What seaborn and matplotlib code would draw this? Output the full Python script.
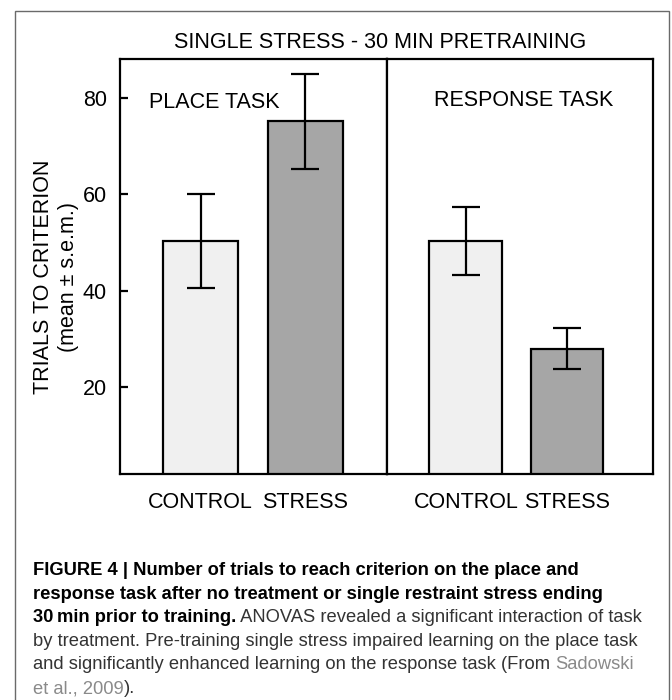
import numpy as np
import pandas as pd
import matplotlib
matplotlib.use('Agg')
import matplotlib.pyplot as plt
import seaborn as sns

# Values
conditions = ['CONTROL', 'STRESS']
place_means = [50.3, 75.1]
place_sems = [9.8, 9.8]
response_means = [50.3, 28.0]
response_sems = [7.0, 4.2]
panel_titles = ['PLACE TASK', 'RESPONSE TASK']
y_ticks = [20, 40, 60, 80]

bar_colors = ['#f0f0f0', '#a6a6a6']
fs = 15.5

sns.set_theme(style='white')
plt.rcParams['font.family'] = ['Liberation Sans', 'DejaVu Sans']

fig = plt.figure(figsize=(6.72, 7.0), dpi=100)
W, H = 672, 700

# outer frame of the figure panel
fig.add_artist(plt.Rectangle((15 / W, -0.02), (669 - 15) / W, 1 - 11 / H + 0.02,
                             transform=fig.transFigure, fill=False, ec='#6a6a6a', lw=1.0))

left, mid, right = 120 / W, 387 / W, 653 / W
bottom, top = 1 - 474 / H, 1 - 59 / H
ax1 = fig.add_axes([left, bottom, mid - left, top - bottom])
ax2 = fig.add_axes([mid, bottom, right - mid, top - bottom])

panels = [(ax1, place_means, place_sems),
          (ax2, response_means, response_sems)]

for ax, means, sems in panels:
    df = pd.DataFrame({'cond': conditions, 'mean': means})
    sns.barplot(data=df, x='cond', y='mean', hue='cond', palette=bar_colors,
                width=0.72, edgecolor='black', linewidth=1.6, errorbar=None,
                legend=False, ax=ax)
    ax.errorbar(np.arange(len(means)), means, yerr=sems, fmt='none',
                ecolor='black', elinewidth=1.6, capsize=10, capthick=1.6)
    ax.set_ylim(2, 88)
    ax.set_xlabel('')
    ax.set_ylabel('')
    for s in ax.spines.values():
        s.set_color('black')
        s.set_linewidth(1.6)
    ax.tick_params(axis='x', length=0, pad=13, labelsize=fs, colors='black')

ax1.set_xlim(-0.77, 1.78)
ax2.set_xlim(-0.78, 1.85)

ax1.text(0.11, 0.895, panel_titles[0], transform=ax1.transAxes, fontsize=fs,
         ha='left', va='center', color='black')
ax2.text(0.515, 0.9, panel_titles[1], transform=ax2.transAxes, fontsize=fs,
         ha='center', va='center', color='black')

ax1.set_yticks(y_ticks)
ax1.tick_params(axis='y', direction='in', length=6, width=1.6, left=True,
                labelsize=fs, pad=9.5, colors='black')
ax2.set_yticks([])

ax1.set_ylabel('TRIALS TO CRITERION\n(mean ± s.e.m.)', fontsize=fs,
               linespacing=1.2, color='black')
ax1.yaxis.set_label_coords(-0.155, 0.475)

fig.text(380 / W, 1 - 42 / H, 'SINGLE STRESS - 30 MIN PRETRAINING', fontsize=fs,
         ha='center', va='center', color='black')

# caption, drawn piece by piece so bold/normal/link runs line up
cap_lines = [
    [('FIGURE 4 | Number of trials to reach criterion on the place and', 'bold', 'black')],
    [('response task after no treatment or single restraint stress ending', 'bold', 'black')],
    [('30\u2009min prior to training.', 'bold', 'black'),
     (' ANOVAS revealed a significant interaction of task', 'normal', '#333333')],
    [('by treatment. Pre-training single stress impaired learning on the place task', 'normal', '#333333')],
    [('and significantly enhanced learning on the response task (From ', 'normal', '#333333'),
     ('Sadowski', 'normal', '#8a8a8a')],
    [('et al., 2009', 'normal', '#8a8a8a'), (').', 'normal', '#333333')],
]
baselines = [575, 599, 622, 646, 669, 693]
renderer = fig.canvas.get_renderer()
for runs, yb in zip(cap_lines, baselines):
    x = 33
    for txt, weight, col in runs:
        t = fig.text(x / W, 1 - yb / H, txt, fontsize=13.2, fontweight=weight,
                     color=col, ha='left', va='baseline',
                     family=['Liberation Sans', 'DejaVu Sans'])
        x += t.get_window_extent(renderer).width

fig.savefig('out.png', dpi=100)
